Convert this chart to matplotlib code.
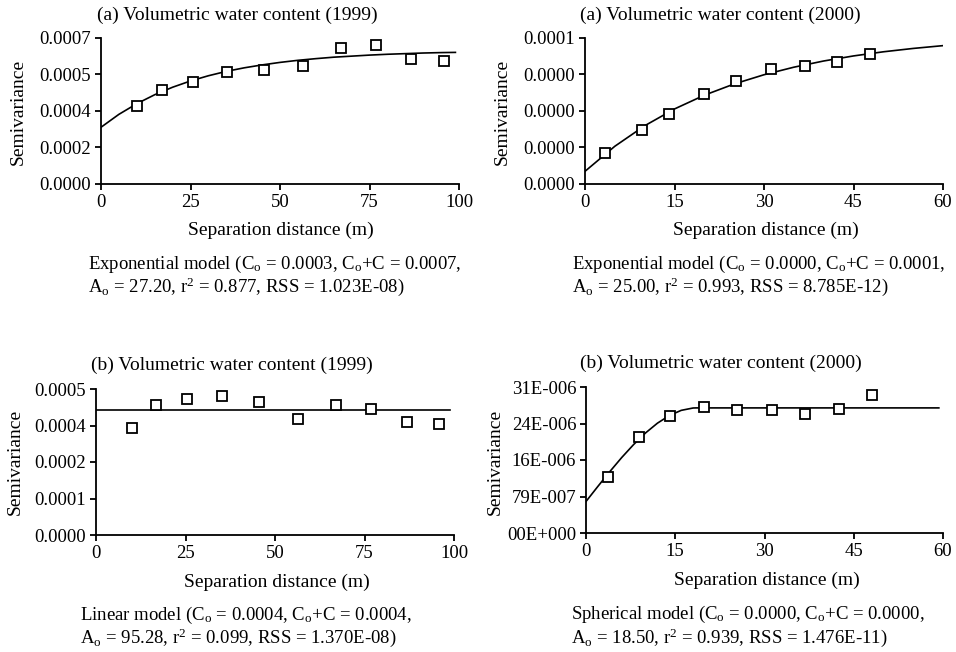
import matplotlib
matplotlib.use("Agg")
from matplotlib import pyplot as plt

plt.rcParams["font.family"] = ["Liberation Serif", "DejaVu Serif"]
plt.rcParams["mathtext.fontset"] = "custom"
plt.rcParams["mathtext.rm"] = "Liberation Serif"
plt.rcParams["mathtext.it"] = "Liberation Serif:italic"

W, H = 956, 652
FS = 14
TICK_FS = 13.5
CAP_FS = 13.5

# (a) 1999 - exponential model
lag_a99 = [10.0, 17.1, 25.6, 35.1, 45.5, 56.5, 66.9, 76.9, 86.7, 95.7]
gam_a99 = [0.000376, 0.000452, 0.000489, 0.000537, 0.000545, 0.000564, 0.000652, 0.000666, 0.000598, 0.000588]
fit_x_a99 = [0, 5, 10, 15, 20, 25, 30, 35, 40, 45, 50, 55, 60, 65, 70, 75, 80, 85, 90, 95, 99]
fit_y_a99 = [0.000272, 0.000334, 0.000385, 0.000428, 0.000464, 0.000494, 0.000519, 0.000540, 0.000557,
             0.000571, 0.000583, 0.000593, 0.000601, 0.000608, 0.000613, 0.000618, 0.000622, 0.000625,
             0.000628, 0.000630, 0.000631]

# (a) 2000 - exponential model
lag_a00 = [3.35, 9.6, 14.1, 19.9, 25.3, 31.1, 36.8, 42.3, 47.8]
gam_a00 = [1.274e-5, 2.205e-5, 2.890e-5, 3.712e-5, 4.247e-5, 4.726e-5, 4.863e-5, 5.014e-5, 5.342e-5]
fit_x_a00 = [0, 5, 10, 15, 20, 25, 30, 35, 40, 45, 50, 55, 60]
fit_y_a00 = [0.521e-5, 1.551e-5, 2.393e-5, 3.084e-5, 3.649e-5, 4.111e-5, 4.490e-5, 4.800e-5,
             5.055e-5, 5.263e-5, 5.433e-5, 5.571e-5, 5.686e-5]

# (b) 1999 - linear model
lag_b99 = [10.1, 16.8, 25.5, 35.1, 45.5, 56.5, 67.0, 76.8, 86.8, 95.9]
gam_b99 = [0.000366, 0.000445, 0.000465, 0.000476, 0.000457, 0.000397, 0.000445, 0.000430, 0.000386, 0.000381]
fit_x_b99 = [0, 99]
fit_y_b99 = [0.000427, 0.000427]

# (b) 2000 - spherical model
lag_b00 = [3.75, 8.9, 14.1, 19.9, 25.3, 31.2, 36.8, 42.5, 48.0]
gam_b00 = [12.17e-6, 20.76e-6, 25.2e-6, 27.2e-6, 26.63e-6, 26.63e-6, 25.63e-6, 26.70e-6, 29.85e-6]
fit_x_b00 = [0, 2, 4, 6, 8, 10, 12, 14, 16, 18, 18.5, 59.3]
fit_y_b00 = [6.80e-6, 10.06e-6, 13.24e-6, 16.28e-6, 19.08e-6, 21.58e-6, 23.69e-6, 25.34e-6,
             26.46e-6, 26.97e-6, 26.99e-6, 26.99e-6]

titles = ["(a) Volumetric water content (1999)", "(a) Volumetric water content (2000)",
          "(b) Volumetric water content (1999)", "(b) Volumetric water content (2000)"]
ytick_labels = [["0.0000", "0.0002", "0.0004", "0.0005", "0.0007"],
                ["0.0000", "0.0000", "0.0000", "0.0000", "0.0001"],
                ["0.0000", "0.0001", "0.0002", "0.0004", "0.0005"],
                ["00E+000", "79E-007", "16E-006", "24E-006", "31E-006"]]
ymax = [0.0007, 6e-5, 0.0005, 31.5e-6]
xticks = [[0, 25, 50, 75, 100], [0, 15, 30, 45, 60], [0, 25, 50, 75, 100], [0, 15, 30, 45, 60]]

SUB = r"$_{\rm o}$"
captions = [
    ["Exponential model (C" + SUB + " = 0.0003, C" + SUB + "+C = 0.0007,",
     "A" + SUB + " = 27.20, r$^{2}$ = 0.877, RSS = 1.023E-08)"],
    ["Exponential model (C" + SUB + " = 0.0000, C" + SUB + "+C = 0.0001,",
     "A" + SUB + " = 25.00, r$^{2}$ = 0.993, RSS = 8.785E-12)"],
    ["Linear model (C" + SUB + " = 0.0004, C" + SUB + "+C = 0.0004,",
     "A" + SUB + " = 95.28, r$^{2}$ = 0.099, RSS = 1.370E-08)"],
    ["Spherical model (C" + SUB + " = 0.0000, C" + SUB + "+C = 0.0000,",
     "A" + SUB + " = 18.50, r$^{2}$ = 0.939, RSS = 1.476E-11)"],
]

panels = [(lag_a99, gam_a99, fit_x_a99, fit_y_a99),
          (lag_a00, gam_a00, fit_x_a00, fit_y_a00),
          (lag_b99, gam_b99, fit_x_b99, fit_y_b99),
          (lag_b00, gam_b00, fit_x_b00, fit_y_b00)]

# pixel layout: axes box (left, top, right, bottom), title, ylabel, xlabel, caption positions
boxes = [(101, 38, 459, 184), (585, 38, 943, 184), (96, 389, 454, 535), (586, 387, 943, 533)]
title_pos = [(237, 15), (720, 15), (232, 365), (721, 363)]
ylab_pos = [(18, 112), (502, 112), (15, 462), (495, 462)]
xlab_pos = [(281, 230), (766, 230), (277, 582), (767, 580)]
cap_pos = [(88, 264, 287), (572, 264, 287), (80, 615, 638), (571, 614, 638)]


def fx(x):
    return x / W


def fy(y):
    return 1 - y / H


fig = plt.figure(figsize=(W / 100, H / 100), dpi=100)

for i in range(4):
    l, t, r, b = boxes[i]
    ax = fig.add_axes([fx(l), fy(b), (r - l) / W, (b - t) / H])
    lag, gam, fxs, fys = panels[i]
    ax.plot(fxs, fys, "-", color="black", lw=1.2)
    ax.plot(lag, gam, "s", ms=7, mfc="white", mec="black", mew=1.3, clip_on=False)
    xmax = xticks[i][-1]
    ax.set_xlim(0, xmax)
    ax.set_ylim(0, ymax[i])
    ax.set_xticks(xticks[i])
    ax.set_yticks([ymax[i] * k / 4 for k in range(5)])
    ax.set_yticklabels(ytick_labels[i])
    ax.spines["top"].set_visible(False)
    ax.spines["right"].set_visible(False)
    for s in ("left", "bottom"):
        ax.spines[s].set_linewidth(1.3)
    ax.tick_params(direction="out", length=4, width=1.3, labelsize=TICK_FS, pad=3)

    fig.text(fx(title_pos[i][0]), fy(title_pos[i][1]), titles[i], ha="center", va="center", fontsize=FS)
    fig.text(fx(ylab_pos[i][0]), fy(ylab_pos[i][1]), "Semivariance", rotation=90,
             ha="center", va="center", fontsize=FS)
    fig.text(fx(xlab_pos[i][0]), fy(xlab_pos[i][1]), "Separation distance (m)",
             ha="center", va="center", fontsize=FS)
    cx, cy1, cy2 = cap_pos[i]
    fig.text(fx(cx), fy(cy1), captions[i][0], ha="left", va="center", fontsize=CAP_FS)
    fig.text(fx(cx), fy(cy2), captions[i][1], ha="left", va="center", fontsize=CAP_FS)

plt.savefig("out.png", dpi=100)
